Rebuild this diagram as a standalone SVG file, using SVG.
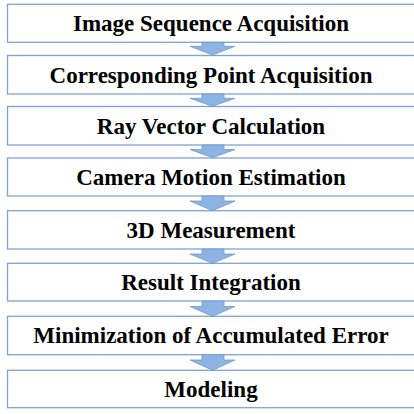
<svg xmlns="http://www.w3.org/2000/svg" width="414" height="414" viewBox="0 0 414 414">
<style>
.box{fill:#ffffff;stroke:#7FA2D5;stroke-width:1.3}
.lbl{font-family:"Liberation Serif","Times New Roman",serif;font-weight:bold;font-size:23px;fill:#000;text-anchor:middle}
.arr{fill:#8DB3E2;stroke:#6E99CF;stroke-width:0.8}
</style>
<rect width="414" height="414" fill="#ffffff"/>
<g id="n1"><rect class="box" x="7.5" y="4.3" width="420" height="38"/><text class="lbl" x="211" y="31">Image Sequence Acquisition</text></g>
<g id="n2"><rect class="box" x="7.5" y="55.5" width="420" height="38.5"/><text class="lbl" x="211" y="82.5">Corresponding Point Acquisition</text></g>
<g id="n3"><rect class="box" x="7.5" y="106.5" width="420" height="38.5"/><text class="lbl" x="211" y="133.5">Ray Vector Calculation</text></g>
<g id="n4"><rect class="box" x="7.5" y="158" width="420" height="38"/><text class="lbl" x="211" y="185">Camera Motion Estimation</text></g>
<g id="n5"><rect class="box" x="7.5" y="210.7" width="420" height="38.3"/><text class="lbl" x="211" y="237.5">3D Measurement</text></g>
<g id="n6"><rect class="box" x="7.5" y="263.3" width="420" height="37.7"/><text class="lbl" x="211" y="290">Result Integration</text></g>
<g id="n7"><rect class="box" x="7.5" y="316.3" width="420" height="38.4"/><text class="lbl" x="211" y="343.3">Minimization of Accumulated Error</text></g>
<g id="n8"><rect class="box" x="7.5" y="370.3" width="420" height="37.4"/><text class="lbl" x="211" y="396.8">Modeling</text></g>
<g id="connectors">
<polygon class="arr" points="202,42.3 224,42.3 224,46.3 235,46.3 212.5,55 190,46.3 202,46.3"/>
<polygon class="arr" points="202,94 224,94 224,98.3 235,98.3 212.5,106.3 190,98.3 202,98.3"/>
<polygon class="arr" points="202,145 224,145 224,149.5 235,149.5 212.5,157.7 190,149.5 202,149.5"/>
<polygon class="arr" points="202,196 224,196 224,201 235,201 212.5,210.7 190,201 202,201"/>
<polygon class="arr" points="202,249 224,249 224,254 235,254 212.5,263.3 190,254 202,254"/>
<polygon class="arr" points="202,301 224,301 224,306.5 235,306.5 212.5,316.3 190,306.5 202,306.5"/>
<polygon class="arr" points="202,354.7 224,354.7 224,360 235,360 212.5,370.3 190,360 202,360"/>
</g>
</svg>
